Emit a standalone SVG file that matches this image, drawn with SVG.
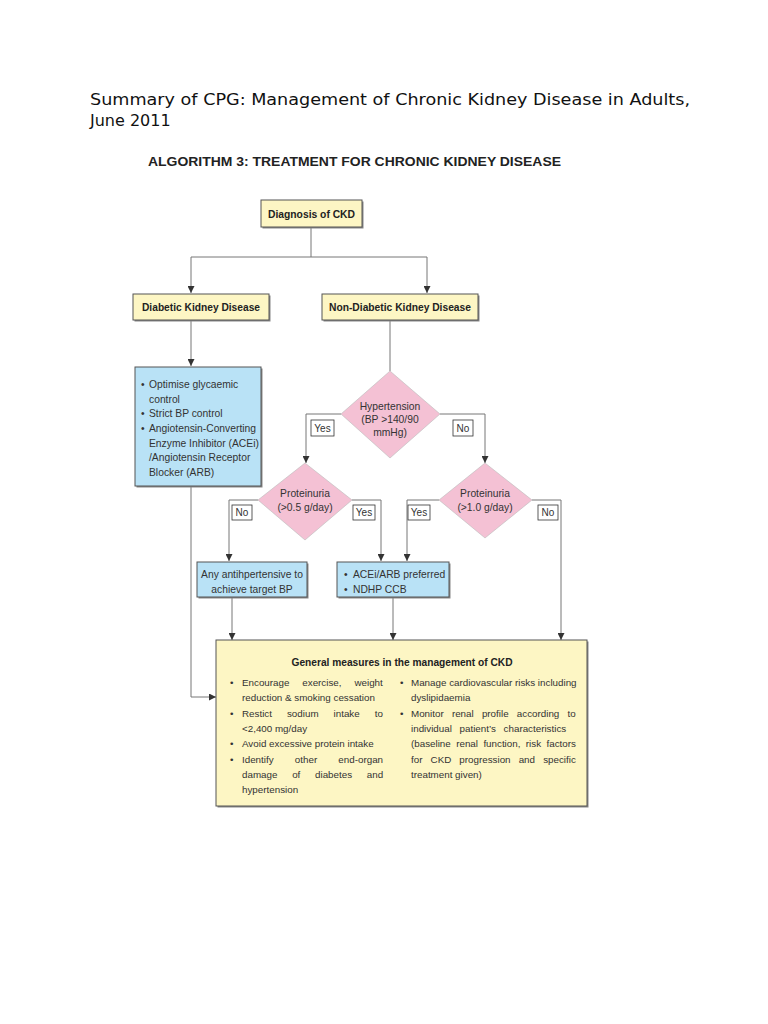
<svg xmlns="http://www.w3.org/2000/svg" width="768" height="1024" viewBox="0 0 768 1024">
<defs>
<style>
.ttl{font-family:"DejaVu Sans",sans-serif;font-size:16px;fill:#111}
.hd{font-family:"Liberation Sans",Arial,sans-serif;font-size:13px;font-weight:bold;fill:#222}
.b{font-family:"Liberation Sans",Arial,sans-serif;font-size:10.5px;font-weight:bold;fill:#222}
.t{font-family:"Liberation Sans",Arial,sans-serif;font-size:10.3px;fill:#333}
.g{font-family:"Liberation Sans",Arial,sans-serif;font-size:9.8px;fill:#333}
.lb{font-family:"Liberation Sans",Arial,sans-serif;font-size:10px;fill:#333}
.y{fill:#fdf6c4;stroke:#555;stroke-width:1}
.bl{fill:#b9e2f6;stroke:#555;stroke-width:1}
.pk{fill:#f4c1d4;stroke:#bbb;stroke-width:0.6}
.sh{fill:#888}
.lab{fill:#fff;stroke:#333;stroke-width:0.8}
.c{fill:none;stroke:#777;stroke-width:1}
</style>
<marker id="ar" viewBox="0 0 10 10" refX="10" refY="5" markerWidth="7" markerHeight="7" markerUnits="userSpaceOnUse" orient="auto">
<path d="M0,0 L10,5 L0,10 z" fill="#333"/>
</marker>
</defs>
<rect width="768" height="1024" fill="#fff"/>
<text class="ttl" x="90" y="105" textLength="600" lengthAdjust="spacingAndGlyphs">Summary of CPG: Management of Chronic Kidney Disease in Adults,</text>
<text class="ttl" x="90" y="126">June 2011</text>
<text class="hd" x="148" y="166" textLength="413" lengthAdjust="spacingAndGlyphs">ALGORITHM 3: TREATMENT FOR CHRONIC KIDNEY DISEASE</text>

<g id="connectors">
<path class="c" d="M311,228 V257 M191,257 H427"/>
<path class="c" d="M191,257 V293" marker-end="url(#ar)"/>
<path class="c" d="M427,257 V293" marker-end="url(#ar)"/>
<path class="c" d="M191,321 V366" marker-end="url(#ar)"/>
<path class="c" d="M390,321 V371"/>
<path class="c" d="M341,414 H306 V463" marker-end="url(#ar)"/>
<path class="c" d="M440,414 H485 V463" marker-end="url(#ar)"/>
<path class="c" d="M258,500 H229 V561" marker-end="url(#ar)"/>
<path class="c" d="M352,500 H381 V561" marker-end="url(#ar)"/>
<path class="c" d="M439,500 H407 V561" marker-end="url(#ar)"/>
<path class="c" d="M532,500 H561 V640" marker-end="url(#ar)"/>
<path class="c" d="M232,598 V640" marker-end="url(#ar)"/>
<path class="c" d="M393,597 V640" marker-end="url(#ar)"/>
<path class="c" d="M191,487 V697 H216" marker-end="url(#ar)"/>
</g>

<g id="diagnosis">
<rect class="sh" x="262.5" y="201.5" width="101" height="27"/>
<rect class="y" x="261" y="200" width="101" height="27"/>
<text class="b" x="311.5" y="218" text-anchor="middle" textLength="87" lengthAdjust="spacingAndGlyphs">Diagnosis of CKD</text>
</g>

<g id="diabetic">
<rect class="sh" x="134.5" y="295.5" width="136" height="26"/>
<rect class="y" x="133" y="294" width="136" height="26"/>
<text class="b" x="201" y="311" text-anchor="middle" textLength="118" lengthAdjust="spacingAndGlyphs">Diabetic Kidney Disease</text>
</g>

<g id="nondiabetic">
<rect class="sh" x="323.5" y="295.5" width="156" height="26"/>
<rect class="y" x="322" y="294" width="156" height="26"/>
<text class="b" x="400" y="311" text-anchor="middle" textLength="142" lengthAdjust="spacingAndGlyphs">Non-Diabetic Kidney Disease</text>
</g>

<g id="diabetic-treatment">
<rect class="sh" x="136.5" y="368.5" width="126" height="119"/>
<rect class="bl" x="135" y="367" width="126" height="119"/>
<text class="t"><tspan x="141" y="388">•</tspan><tspan x="149" y="388">Optimise glycaemic</tspan>
<tspan x="149" y="402.5">control</tspan>
<tspan x="141" y="417">•</tspan><tspan x="149" y="417">Strict BP control</tspan>
<tspan x="141" y="432">•</tspan><tspan x="149" y="432" textLength="107" lengthAdjust="spacingAndGlyphs">Angiotensin-Converting</tspan>
<tspan x="149" y="446.5">Enzyme Inhibitor (ACEi)</tspan>
<tspan x="149" y="461">/Angiotensin Receptor</tspan>
<tspan x="149" y="475.5">Blocker (ARB)</tspan></text>
</g>

<g id="hypertension">
<polygon class="pk" points="390,371 440,414 390,458 341,414"/>
<text class="t" text-anchor="middle"><tspan x="390" y="410">Hypertension</tspan><tspan x="390" y="423">(BP &gt;140/90</tspan><tspan x="390" y="436">mmHg)</tspan></text>
</g>

<g id="proteinuria-05">
<polygon class="pk" points="305,463 352,500 305,540 258,500"/>
<text class="t" text-anchor="middle"><tspan x="305" y="497">Proteinuria</tspan><tspan x="305" y="511">(&gt;0.5 g/day)</tspan></text>
</g>

<g id="proteinuria-10">
<polygon class="pk" points="485,463 532,500 485,538 439,500"/>
<text class="t" text-anchor="middle"><tspan x="485" y="497">Proteinuria</tspan><tspan x="485" y="511">(&gt;1.0 g/day)</tspan></text>
</g>

<g id="labels">
<rect class="lab" x="311" y="420" width="23" height="16"/><text class="lb" x="322.5" y="432" text-anchor="middle">Yes</text>
<rect class="lab" x="453" y="420" width="20" height="16"/><text class="lb" x="463" y="432" text-anchor="middle">No</text>
<rect class="lab" x="232" y="505" width="20" height="15"/><text class="lb" x="242" y="516" text-anchor="middle">No</text>
<rect class="lab" x="353" y="505" width="22" height="15"/><text class="lb" x="364" y="516" text-anchor="middle">Yes</text>
<rect class="lab" x="408" y="505" width="22" height="15"/><text class="lb" x="419" y="516" text-anchor="middle">Yes</text>
<rect class="lab" x="538" y="505" width="20" height="15"/><text class="lb" x="548" y="516" text-anchor="middle">No</text>
</g>

<g id="any-antihypertensive">
<rect class="sh" x="198.5" y="563.5" width="110" height="35"/>
<rect class="bl" x="197" y="562" width="110" height="35"/>
<text class="t" text-anchor="middle"><tspan x="252" y="578">Any antihpertensive to</tspan><tspan x="252" y="593">achieve target BP</tspan></text>
</g>

<g id="acei-arb">
<rect class="sh" x="338.5" y="563.5" width="112" height="35"/>
<rect class="bl" x="337" y="562" width="112" height="35"/>
<text class="t"><tspan x="344" y="578">•</tspan><tspan x="353" y="578">ACEi/ARB preferred</tspan><tspan x="344" y="593">•</tspan><tspan x="353" y="593">NDHP CCB</tspan></text>
</g>

<g id="general-measures">
<rect class="sh" x="217.5" y="641.5" width="371" height="166"/>
<rect class="y" x="216" y="640" width="371" height="166"/>
<text class="b" x="402" y="666" text-anchor="middle" textLength="221" lengthAdjust="spacingAndGlyphs">General measures in the management of CKD</text>
<text class="g">
<tspan x="230" y="686">•</tspan><tspan x="242" y="686" style="word-spacing:10.2px">Encourage exercise, weight</tspan>
<tspan x="242" y="701">reduction &amp; smoking cessation</tspan>
<tspan x="230" y="717">•</tspan><tspan x="242" y="717" style="word-spacing:12.3px">Restict sodium intake to</tspan>
<tspan x="242" y="732">&lt;2,400 mg/day</tspan>
<tspan x="230" y="747">•</tspan><tspan x="242" y="747">Avoid excessive protein intake</tspan>
<tspan x="230" y="763">•</tspan><tspan x="242" y="763" style="word-spacing:18.5px">Identify other end-organ</tspan>
<tspan x="242" y="778" style="word-spacing:12px">damage of diabetes and</tspan>
<tspan x="242" y="793">hypertension</tspan>
</text>
<text class="g">
<tspan x="400" y="686">•</tspan><tspan x="411" y="686">Manage cardiovascular risks including</tspan>
<tspan x="411" y="701">dyslipidaemia</tspan>
<tspan x="400" y="717">•</tspan><tspan x="411" y="717" style="word-spacing:5.5px">Monitor renal profile according to</tspan>
<tspan x="411" y="732" style="word-spacing:5px">individual patient’s characteristics</tspan>
<tspan x="411" y="747" style="word-spacing:2.7px">(baseline renal function, risk factors</tspan>
<tspan x="411" y="763" style="word-spacing:5.4px">for CKD progression and specific</tspan>
<tspan x="411" y="778">treatment given)</tspan>
</text>
</g>
</svg>
